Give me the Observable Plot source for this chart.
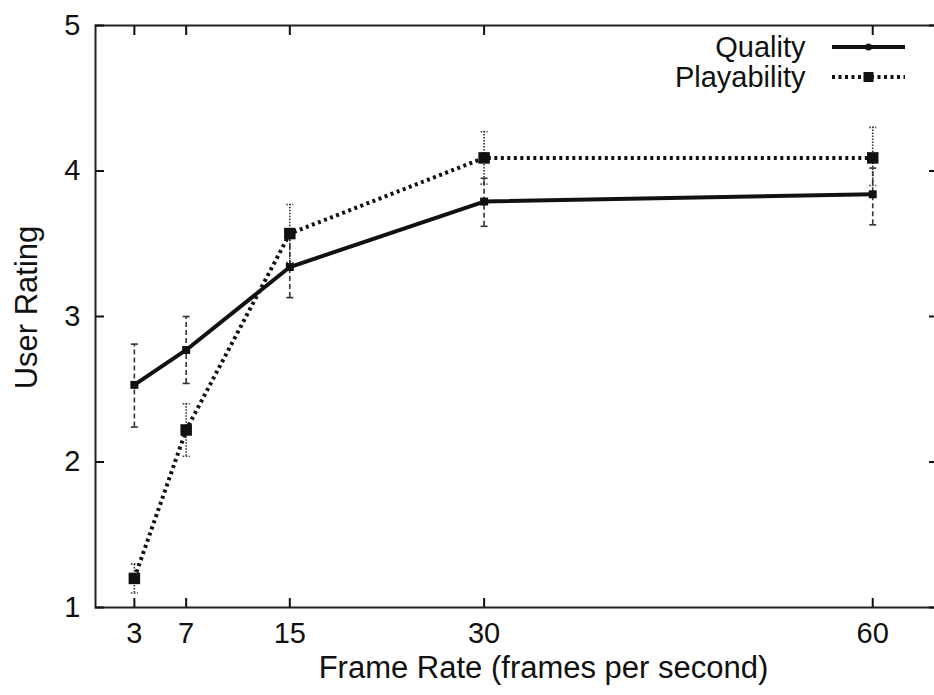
<!DOCTYPE html>
<html><head><meta charset="utf-8">
<script src="https://cdn.jsdelivr.net/npm/d3@7"></script>
<script src="https://cdn.jsdelivr.net/npm/@observablehq/plot@0.6"></script>
<style>body{margin:0;background:#fff;}</style>
</head><body><div id="chart"></div>
<script>
// ---- data ----
const frameRates   = [3, 7, 15, 30, 60];
const qualityMean  = [2.53, 2.77, 3.34, 3.79, 3.84];
const qualityLow   = [2.24, 2.54, 3.13, 3.62, 3.63];
const qualityHigh  = [2.81, 3.00, 3.54, 3.95, 4.02];
const playMean     = [1.20, 2.22, 3.57, 4.09, 4.09];
const playLow      = [1.10, 2.04, 3.37, 3.91, 3.90];
const playHigh     = [1.30, 2.40, 3.77, 4.27, 4.30];
const xTicks = [3, 7, 15, 30, 60];
const yTicks = [1, 2, 3, 4, 5];
const seriesNames = ["Quality", "Playability"];
const xLabel = "Frame Rate (frames per second)";
const yLabel = "User Rating";

const quality = frameRates.map((fps, i) => ({fps, mean: qualityMean[i], lo: qualityLow[i], hi: qualityHigh[i]}));
const play = frameRates.map((fps, i) => ({fps, mean: playMean[i], lo: playLow[i], hi: playHigh[i]}));

const ink = "#111";
const dotted = "3,3.5";
const capSymbol = {draw(ctx) { ctx.moveTo(-3.5, 0); ctx.lineTo(3.5, 0); }};

const legendMark = (index, scales, values, dims) => {
  const right = dims.width - dims.marginRight;
  const top = dims.marginTop;
  const g = d3.create("svg:g");
  const x1 = right - 105, x2 = right - 32, xm = (x1 + x2) / 2;
  const r1 = top + 22, r2 = top + 52;
  g.append("line").attr("x1", x1).attr("x2", x2).attr("y1", r1).attr("y2", r1)
    .attr("stroke", ink).attr("stroke-width", 4);
  g.append("circle").attr("cx", xm).attr("cy", r1).attr("r", 3.5).attr("fill", ink);
  g.append("line").attr("x1", x1).attr("x2", x2).attr("y1", r2).attr("y2", r2)
    .attr("stroke", ink).attr("stroke-width", 4).attr("stroke-linecap", "butt").attr("stroke-dasharray", dotted);
  g.append("rect").attr("x", xm - 5).attr("y", r2 - 5).attr("width", 10).attr("height", 10).attr("fill", ink);
  return g.node();
};

const chart = Plot.plot({
  width: 934, height: 695,
  marginLeft: 95, marginRight: -3, marginTop: 25, marginBottom: 88,
  x: {type: "linear", domain: [0, 65]},
  y: {type: "linear", domain: [1, 5]},
  style: {fontFamily: "'Liberation Sans', Arial, sans-serif", fontSize: "29px", color: ink, background: "#fff"},
  marks: [
    Plot.frame({stroke: "#222", strokeWidth: 2}),
    Plot.axisX({ticks: xTicks, anchor: "bottom", tickSize: -9, tickPadding: 24, strokeWidth: 2, label: null, tickFormat: d => String(d)}),
    Plot.axisX({ticks: xTicks, anchor: "top", tickSize: -9, strokeWidth: 2, label: null, tickFormat: () => ""}),
    Plot.axisY({ticks: yTicks, anchor: "left", tickSize: -9, tickPadding: 24, strokeWidth: 2, label: null, tickFormat: d => String(d)}),
    Plot.axisY({ticks: yTicks, anchor: "right", tickSize: -9, strokeWidth: 2, label: null, tickFormat: () => ""}),
    // error bars
    Plot.ruleX(quality, {x: "fps", y1: "lo", y2: "hi", stroke: "#333", strokeWidth: 1.6, strokeDasharray: "5,3"}),
    Plot.dot(quality, {x: "fps", y: "lo", symbol: capSymbol, stroke: "#333", strokeWidth: 1.6}),
    Plot.dot(quality, {x: "fps", y: "hi", symbol: capSymbol, stroke: "#333", strokeWidth: 1.6}),
    Plot.ruleX(play, {x: "fps", y1: "lo", y2: "hi", stroke: "#333", strokeWidth: 1.6, strokeDasharray: "1.5,1.5"}),
    Plot.dot(play, {x: "fps", y: "lo", symbol: capSymbol, stroke: "#333", strokeWidth: 1.6, strokeDasharray: "1.5,1.5"}),
    Plot.dot(play, {x: "fps", y: "hi", symbol: capSymbol, stroke: "#333", strokeWidth: 1.6, strokeDasharray: "1.5,1.5"}),
    // lines
    Plot.line(play, {x: "fps", y: "mean", stroke: ink, strokeWidth: 4, strokeLinecap: "butt", strokeLinejoin: "miter", strokeDasharray: dotted}),
    Plot.line(quality, {x: "fps", y: "mean", stroke: ink, strokeWidth: 4}),
    // markers
    Plot.dot(play, {x: "fps", y: "mean", symbol: "square", r: 6.5, fill: ink}),
    Plot.dot(quality, {x: "fps", y: "mean", symbol: "square", r: 4.5, fill: ink}),
    // labels
    Plot.text([xLabel], {text: d => d, frameAnchor: "bottom", textAnchor: "middle", dx: 27, dy: 61, lineAnchor: "middle", fontSize: 31, fill: ink}),
    Plot.text([yLabel], {text: d => d, frameAnchor: "left", textAnchor: "middle", rotate: -90, dx: -68, dy: -9, lineAnchor: "middle", fontSize: 31, fill: ink}),
    // legend
    Plot.text([seriesNames[0]], {text: d => d, frameAnchor: "top-right", textAnchor: "end", dx: -132, dy: 22, lineAnchor: "middle", fill: ink}),
    Plot.text([seriesNames[1]], {text: d => d, frameAnchor: "top-right", textAnchor: "end", dx: -132, dy: 52, lineAnchor: "middle", fill: ink}),
    legendMark
  ]
});
document.getElementById("chart").appendChild(chart);
</script>
</body></html>
